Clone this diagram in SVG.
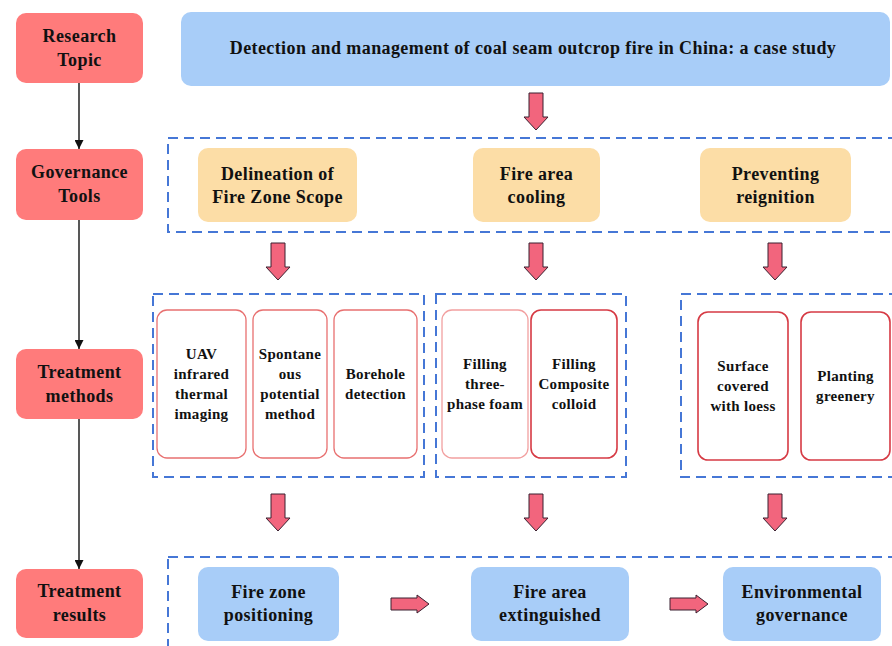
<svg xmlns="http://www.w3.org/2000/svg" width="892" height="646" viewBox="0 0 892 646">
<defs>
<style>
.lbl{fill:#FF7B7B;}
.t{font-family:"Liberation Serif","Times New Roman",serif;font-weight:bold;fill:#111;text-anchor:middle;}
.big{font-size:18px;letter-spacing:0.4px;}
.sm{font-size:15px;letter-spacing:0.3px;}
.dash{fill:none;stroke:#4677D6;stroke-width:2;stroke-dasharray:10,6;}
.org{fill:#FCDDA6;}
.blu{fill:#A8CDF8;}
.inn{fill:#fff;stroke:#E87070;stroke-width:1.3;}
.inn2{fill:#fff;stroke:#D63A44;stroke-width:1.6;}
.inn3{fill:#fff;stroke:#F2A0A0;stroke-width:1.3;}
.blk{fill:#F2657D;stroke:#3a2030;stroke-width:1;}
.ln{stroke:#111;stroke-width:1.4;fill:none;}
</style>
<marker id="ah" viewBox="0 0 10 10" refX="10" refY="5" markerWidth="9" markerHeight="9" markerUnits="userSpaceOnUse" orient="auto">
<path d="M0,0 L10,5 L0,10 z" fill="#111"/>
</marker>
</defs>
<rect width="892" height="646" fill="#fff"/>

<g id="connectors">
<line class="ln" x1="79" y1="83" x2="79" y2="149" marker-end="url(#ah)"/>
<line class="ln" x1="79" y1="220" x2="79" y2="349" marker-end="url(#ah)"/>
<line class="ln" x1="79" y1="419" x2="79" y2="569" marker-end="url(#ah)"/>
<path class="blk" d="M529,93 h14 v24 h5 l-12,13 l-12,-13 h5 z"/>
<path class="blk" d="M271,243 h14 v24 h5 l-12,13 l-12,-13 h5 z"/>
<path class="blk" d="M529,243 h14 v24 h5 l-12,13 l-12,-13 h5 z"/>
<path class="blk" d="M768,243 h14 v24 h5 l-12,13 l-12,-13 h5 z"/>
<path class="blk" d="M271,494 h14 v24 h5 l-12,13 l-12,-13 h5 z"/>
<path class="blk" d="M529,494 h14 v24 h5 l-12,13 l-12,-13 h5 z"/>
<path class="blk" d="M768,494 h14 v24 h5 l-12,13 l-12,-13 h5 z"/>
<path class="blk" d="M391,598 h26 v-3 l12,9 l-12,9 v-3 h-26 z"/>
<path class="blk" d="M670,598 h26 v-3 l12,9 l-12,9 v-3 h-26 z"/>
</g>

<g id="research-topic">
<rect class="lbl" x="16" y="13" width="127" height="70" rx="10"/>
<text class="t big" x="79.5" y="42">Research</text>
<text class="t big" x="79.5" y="66">Topic</text>
</g>
<g id="governance-tools">
<rect class="lbl" x="16" y="149" width="127" height="71" rx="10"/>
<text class="t big" x="79.5" y="178">Governance</text>
<text class="t big" x="79.5" y="202">Tools</text>
</g>
<g id="treatment-methods">
<rect class="lbl" x="16" y="349" width="127" height="70" rx="10"/>
<text class="t big" x="79.5" y="378">Treatment</text>
<text class="t big" x="79.5" y="402">methods</text>
</g>
<g id="treatment-results">
<rect class="lbl" x="16" y="569" width="127" height="69" rx="10"/>
<text class="t big" x="79.5" y="597">Treatment</text>
<text class="t big" x="79.5" y="621">results</text>
</g>

<g id="title">
<rect class="blu" x="181" y="12" width="709" height="74" rx="10"/>
<text class="t big" x="533" y="54">Detection and management of coal seam outcrop fire in China: a case study</text>
</g>

<g id="tools-group">
<rect class="dash" x="168" y="138" width="730" height="94"/>
</g>
<g id="delineation">
<rect class="org" x="198" y="148" width="159" height="74" rx="10"/>
<text class="t big" x="277.5" y="180">Delineation of</text>
<text class="t big" x="277.5" y="203">Fire Zone Scope</text>
</g>
<g id="cooling">
<rect class="org" x="473" y="148" width="127" height="74" rx="10"/>
<text class="t big" x="536.5" y="180">Fire area</text>
<text class="t big" x="536.5" y="203">cooling</text>
</g>
<g id="reignition">
<rect class="org" x="700" y="148" width="151" height="74" rx="10"/>
<text class="t big" x="775.5" y="180">Preventing</text>
<text class="t big" x="775.5" y="203">reignition</text>
</g>

<g id="methods-a">
<rect class="dash" x="153" y="294" width="271" height="183"/>
</g>
<g id="methods-b">
<rect class="dash" x="436" y="294" width="190" height="183"/>
</g>
<g id="methods-c">
<rect class="dash" x="681" y="294" width="217" height="183"/>
</g>

<g id="uav">
<rect class="inn" x="157" y="310" width="89" height="148" rx="10"/>
<text class="t sm" x="201.5" y="359">UAV</text>
<text class="t sm" x="201.5" y="379">infrared</text>
<text class="t sm" x="201.5" y="399">thermal</text>
<text class="t sm" x="201.5" y="419">imaging</text>
</g>
<g id="spontaneous">
<rect class="inn" x="253" y="310" width="74" height="148" rx="10"/>
<text class="t sm" x="290" y="359">Spontane</text>
<text class="t sm" x="290" y="379">ous</text>
<text class="t sm" x="290" y="399">potential</text>
<text class="t sm" x="290" y="419">method</text>
</g>
<g id="borehole">
<rect class="inn" x="334" y="310" width="83" height="148" rx="10"/>
<text class="t sm" x="375.5" y="379">Borehole</text>
<text class="t sm" x="375.5" y="399">detection</text>
</g>
<g id="foam">
<rect class="inn3" x="442" y="310" width="86" height="148" rx="10"/>
<text class="t sm" x="485" y="369">Filling</text>
<text class="t sm" x="485" y="389">three-</text>
<text class="t sm" x="485" y="409">phase foam</text>
</g>
<g id="colloid">
<rect class="inn2" x="531" y="310" width="86" height="148" rx="10"/>
<text class="t sm" x="574" y="369">Filling</text>
<text class="t sm" x="574" y="389">Composite</text>
<text class="t sm" x="574" y="409">colloid</text>
</g>
<g id="loess">
<rect class="inn2" x="698" y="312" width="90" height="148" rx="10"/>
<text class="t sm" x="743" y="371">Surface</text>
<text class="t sm" x="743" y="391">covered</text>
<text class="t sm" x="743" y="411">with loess</text>
</g>
<g id="greenery">
<rect class="inn2" x="801" y="312" width="89" height="148" rx="10"/>
<text class="t sm" x="845.5" y="381">Planting</text>
<text class="t sm" x="845.5" y="401">greenery</text>
</g>

<g id="results-group">
<rect class="dash" x="168" y="557" width="730" height="100"/>
</g>
<g id="positioning">
<rect class="blu" x="198" y="567" width="141" height="74" rx="10"/>
<text class="t big" x="268.5" y="598">Fire zone</text>
<text class="t big" x="268.5" y="621">positioning</text>
</g>
<g id="extinguished">
<rect class="blu" x="471" y="567" width="158" height="74" rx="10"/>
<text class="t big" x="550" y="598">Fire area</text>
<text class="t big" x="550" y="621">extinguished</text>
</g>
<g id="environmental">
<rect class="blu" x="723" y="567" width="158" height="74" rx="10"/>
<text class="t big" x="802" y="598">Environmental</text>
<text class="t big" x="802" y="621">governance</text>
</g>
</svg>
